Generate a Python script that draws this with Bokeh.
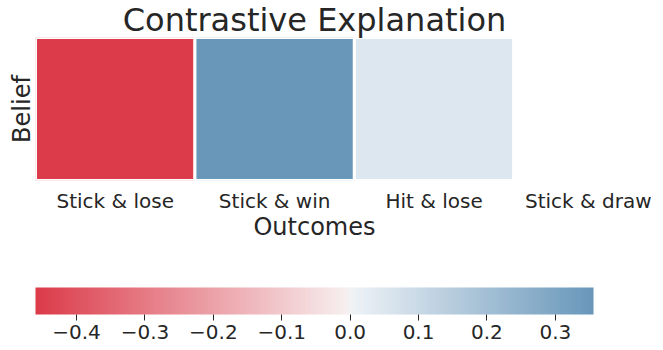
import math
from bokeh.plotting import figure
from bokeh.models import (Range1d, FixedTicker, ColumnDataSource, LinearColorMapper,
                          ColorBar, CustomJSTickFormatter)
from bokeh.transform import transform
from bokeh.embed import file_html
from bokeh.resources import INLINE

# ---- data ----
outcomes = ["Stick & lose", "Stick & win", "Hit & lose", "Stick & draw"]
belief = [-0.46, 0.355, 0.05, float("nan")]
cbar_ticks = [-0.4, -0.3, -0.2, -0.1, 0.0, 0.1, 0.2, 0.3]

valid = [v for v in belief if not math.isnan(v)]
vmin, vmax = min(valid), max(valid)
vrange = max(abs(vmin), abs(vmax))

# ---- diverging palette (seaborn-like, red -> light gray -> blue) ----
anchors = [(0.0, (220, 59, 74)), (0.49, (247, 237, 238)), (0.5, (242, 242, 242)),
           (0.51, (236, 241, 246)), (1.0, (65, 124, 168))]
palette = []
for i in range(256):
    t = i / 255
    for (t0, c0), (t1, c1) in zip(anchors[:-1], anchors[1:]):
        if t0 <= t <= t1:
            f = (t - t0) / (t1 - t0)
            c = tuple(int(round(a + (b - a) * f)) for a, b in zip(c0, c1))
            break
    palette.append("#%02x%02x%02x" % c)

mapper = LinearColorMapper(palette=palette, low=-vrange, high=vrange,
                           nan_color=(0, 0, 0, 0))

src = ColumnDataSource(dict(x=[i + 0.5 for i in range(len(outcomes))],
                            y=[0.5] * len(outcomes),
                            v=belief, name=outcomes))

TXT = "#262626"
FONT = "DejaVu Sans"

p = figure(frame_width=558, frame_height=143, x_range=Range1d(0, 3.5), y_range=Range1d(0, 1),
           output_backend="svg", toolbar_location=None,
           title="Contrastive Explanation",
           min_border_left=35, min_border_right=58, min_border_top=0, min_border_bottom=163)

p.rect(x="x", y="y", width=1, height=1, source=src,
       fill_color=transform("v", mapper), line_color="white", line_width=3)

p.title.text_font_size = "32px"
p.title.text_font = FONT
p.title.text_font_style = "normal"
p.title.text_color = TXT
p.title.align = "center"
p.title.standoff = -3

p.xgrid.visible = False
p.ygrid.visible = False
p.outline_line_color = None

xa = p.xaxis[0]
xa.ticker = FixedTicker(ticks=[i + 0.5 for i in range(len(outcomes))])
xa.major_label_overrides = {i + 0.5: name for i, name in enumerate(outcomes)}
xa.axis_line_color = None
xa.major_tick_line_color = None
xa.minor_tick_line_color = None
xa.major_tick_out = 0
xa.major_tick_in = 0
xa.major_label_text_font_size = "20px"
xa.major_label_text_font = FONT
xa.major_label_text_color = TXT
xa.major_label_standoff = 8
xa.axis_label = "Outcomes"
xa.axis_label_text_font_size = "24px"
xa.axis_label_text_font = FONT
xa.axis_label_text_font_style = "normal"
xa.axis_label_text_color = TXT
xa.axis_label_standoff = -3

ya = p.yaxis[0]
ya.ticker = FixedTicker(ticks=[])
ya.axis_line_color = None
ya.major_tick_line_color = None
ya.minor_tick_line_color = None
ya.major_tick_out = 0
ya.major_tick_in = 0
ya.axis_label = "Belief"
ya.axis_label_text_font_size = "24px"
ya.axis_label_text_font = FONT
ya.axis_label_text_font_style = "normal"
ya.axis_label_text_color = TXT
ya.axis_label_standoff = 0

cb = ColorBar(color_mapper=mapper, orientation="horizontal", height=27, width=558,
              location=(0, -161),
              display_low=vmin, display_high=vmax,
              ticker=FixedTicker(ticks=cbar_ticks),
              formatter=CustomJSTickFormatter(code="return (tick < -1e-9 ? '\\u2212' : '') + Math.abs(tick).toFixed(1);"),
              major_label_text_font_size="20px", major_label_text_font=FONT,
              major_label_text_color=TXT,
              major_tick_out=6, major_tick_in=0, major_tick_line_color=TXT,
              minor_tick_line_color=None,
              bar_line_color=None, border_line_color=None, background_fill_color=None,
              padding=0, margin=0, label_standoff=4)
p.add_layout(cb, "center")

open("out.html", "w").write(file_html(p, INLINE))
